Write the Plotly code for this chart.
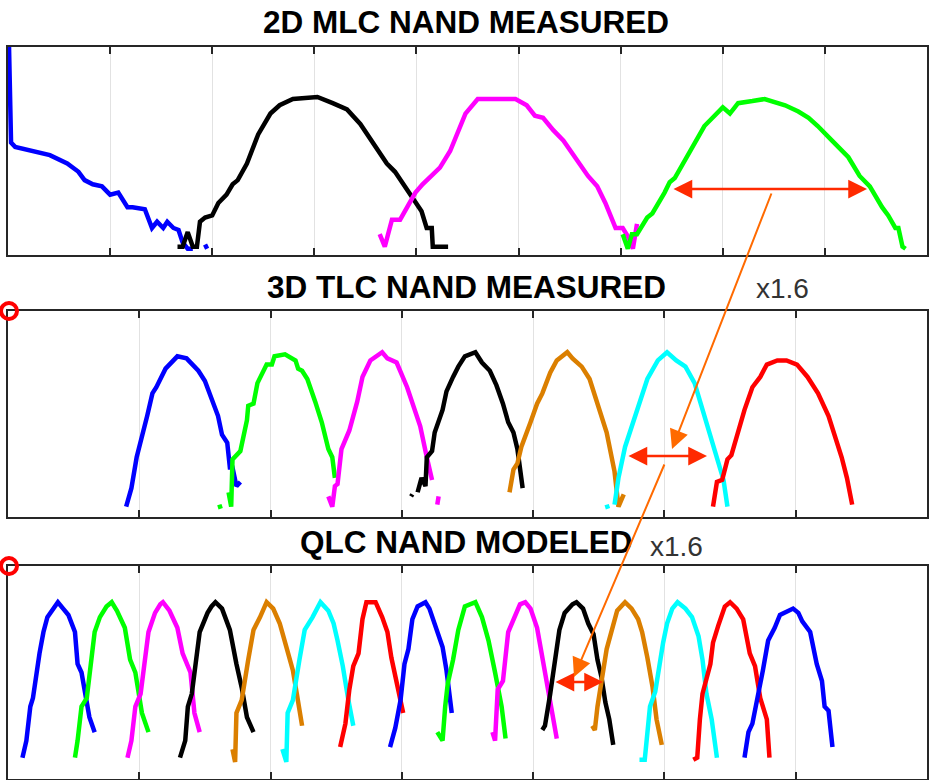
import plotly.graph_objects as go

# ---------------- colours ----------------
BLUE, GREEN, MAGENTA, BLACK = "#0000FF", "#00FF00", "#FF00FF", "#000000"
ORANGE, CYAN, RED = "#DB7F00", "#00FFFF", "#FF0000"

# ---------------- panel 1 : 2D MLC (x grid 0..9, y 0..100) ----------------
mlc_blue_x = [0.01, 0.03, 0.07, 0.24, 0.41, 0.58, 0.69, 0.75, 0.83, 0.92, 1.00, 1.08, 1.17, 1.22, 1.34, 1.41,
              1.46, 1.52, 1.56, 1.62, 1.67, 1.71, 1.76, 1.81, None, 1.93, 1.95]
mlc_blue_y = [100, 54, 52, 50, 48, 44, 40, 36, 34, 33, 29, 30, 23, 23, 22, 13,
              16, 13, 16, 13, 12, 6, 3, 3, None, 5, 3]
mlc_black_x = [1.66, 1.71, 1.76, 1.81, 1.85, 1.88, 1.93, 2.00, 2.06, 2.14, 2.20, 2.25, 2.34, 2.45, 2.57, 2.66,
               2.79, 3.03, 3.18, 3.32, 3.45, 3.55, 3.62, 3.71, 3.79, 3.87, 3.96, 4.05, 4.10, 4.15, 4.16, 4.31]
mlc_black_y = [4, 4, 11, 4, 4, 16, 18, 19, 25, 29, 34, 36, 44, 58, 68, 72,
               75, 76, 73, 70, 63, 56, 51, 44, 40, 34, 27, 21, 13, 13, 4, 4]
mlc_magenta_x = [3.64, 3.69, 3.76, 3.84, 3.99, 4.06, 4.23, 4.33, 4.48, 4.60, 4.80, 4.97, 5.08, 5.16, 5.24, 5.34,
                 5.44, 5.55, 5.68, 5.77, 5.85, 5.95, 6.02, 6.07, 6.12, 6.16]
mlc_magenta_y = [10, 4, 17, 17, 30, 34, 42, 50, 68, 75, 75, 75, 72, 67, 66, 60,
                 55, 47, 38, 33, 25, 13, 13, 9, 3, 15]
mlc_green_x = [6.02, 6.07, 6.11, 6.16, 6.26, 6.31, 6.43, 6.48, 6.53, 6.63, 6.73, 6.82, 6.90, 7.00, 7.07, 7.15,
               7.29, 7.41, 7.61, 7.74, 7.84, 7.93, 8.07, 8.23, 8.34, 8.44, 8.56, 8.62, 8.69, 8.72, 8.76, 8.79]
mlc_green_y = [10, 3, 10, 10, 18, 20, 30, 35, 37, 46, 54, 62, 66, 71, 68, 73,
               74, 75, 72, 69, 66, 62, 55, 47, 38, 33, 23, 19, 13, 13, 4, 3]

# ---------------- panel 2 : 3D TLC (x grid 0..7, y 0..100) ----------------
tlc_blue_x = [0.90, 0.94, 0.98, 1.03, 1.06, 1.10, 1.13, 1.20, 1.29, 1.36, 1.40, 1.45, 1.50, 1.56, 1.60, 1.63,
              1.67, 1.69, 1.71, 1.74, 1.77]
tlc_blue_y = [5, 14, 29, 41, 49, 60, 63, 72, 78, 77, 74, 71, 66, 55, 49, 40,
              36, 24, 24, 15, 17]
tlc_green_x = [1.61, 1.62, None, 1.68, 1.70, 1.71, 1.77, 1.82, 1.83, 1.87, 1.90, 1.97, 2.01, 2.03, 2.11, 2.19,
               2.21, 2.24, 2.28, 2.34, 2.39, 2.44, 2.47, 2.49]
tlc_green_y = [6, 4, None, 12, 5, 28, 32, 47, 54, 55, 65, 74, 74, 78, 79, 76,
               72, 71, 67, 56, 46, 33, 29, 19]
tlc_magenta_x = [2.44, 2.47, 2.49, 2.51, 2.54, 2.60, 2.66, 2.70, 2.76, 2.85, 2.89, 2.96, 3.04, 3.08, 3.14, 3.19,
                 3.23, None, 3.27, 3.28]
tlc_magenta_y = [10, 5, 15, 16, 33, 42, 56, 68, 76, 80, 77, 75, 63, 55, 44, 29,
                 18, None, 6, 10]
tlc_black_x = [3.07, 3.08, None, 3.12, 3.15, 3.18, 3.19, 3.23, 3.25, 3.31, 3.34, 3.39, 3.43, 3.48, 3.56, 3.61,
               3.67, 3.72, 3.77, 3.81, 3.85, 3.88, 3.90, 3.92]
tlc_black_y = [10, 11, None, 12, 19, 15, 29, 32, 41, 52, 61, 68, 73, 78, 80, 75,
               71, 64, 55, 46, 41, 33, 23, 14]
tlc_orange_x = [3.82, 3.85, 3.88, 3.91, 3.98, 4.03, 4.07, 4.13, 4.18, 4.26, 4.30, 4.37, 4.43, 4.49, 4.56, 4.62,
                4.65, 4.69]
tlc_orange_y = [12, 23, 26, 34, 46, 55, 60, 70, 76, 80, 77, 73, 67, 55, 41, 22,
                5, 11]
tlc_cyan_x = [4.56, 4.57, None, 4.62, 4.65, 4.70, 4.78, 4.83, 4.87, 4.95, 5.02, 5.09, 5.16, 5.23, 5.29, 5.36,
              5.41, 5.45, 5.48]
tlc_cyan_y = [6, 4, None, 6, 19, 34, 49, 58, 67, 76, 80, 76, 73, 65, 52, 37,
              26, 18, 5]
tlc_red_x = [5.37, 5.40, 5.44, 5.48, 5.51, 5.56, 5.61, 5.67, 5.73, 5.78, 5.86, 5.93, 6.01, 6.09, 6.17, 6.25,
             6.30, 6.35, 6.39, 6.43]
tlc_red_y = [5, 17, 18, 28, 30, 41, 52, 63, 68, 74, 76, 76, 74, 68, 60, 49,
             39, 29, 19, 6]

# ---------------- panel 3 : QLC modeled (x grid 0..7, y 0..100) ----------------
qlc_blue1_x = [0.11, 0.14, 0.17, 0.19, 0.24, 0.27, 0.30, 0.36, 0.38, 0.42, 0.46, 0.51, 0.53, 0.56, 0.60, 0.62, 0.66]
qlc_blue1_y = [10, 18, 34, 38, 59, 69, 76, 82, 83, 80, 77, 69, 54, 50, 37, 29, 22]
qlc_green1_x = [0.51, 0.53, 0.56, 0.60, 0.66, 0.70, 0.75, 0.79, 0.83, 0.89, 0.93, 0.97, 1.02, 1.07]
qlc_green1_y = [10, 18, 34, 38, 69, 76, 81, 83, 79, 71, 56, 50, 31, 22]
qlc_magenta1_x = [0.91, 0.94, 0.97, 1.01, 1.07, 1.12, 1.16, 1.18, 1.23, 1.29, 1.33, 1.39, 1.42, 1.46]
qlc_magenta1_y = [10, 18, 34, 40, 69, 78, 82, 83, 79, 71, 59, 50, 31, 22]
qlc_black1_x = [1.31, 1.35, 1.37, 1.40, 1.46, 1.52, 1.55, 1.58, 1.63, 1.69, 1.74, 1.78, 1.82, 1.87]
qlc_black1_y = [10, 18, 34, 40, 69, 78, 81, 83, 80, 70, 54, 43, 29, 22]
qlc_orange1_x = [1.71, 1.73, 1.74, 1.78, 1.83, 1.87, 1.92, 1.97, 2.02, 2.07, 2.12, 2.17, 2.20, 2.24]
qlc_orange1_y = [14, 8, 31, 37, 56, 70, 76, 83, 80, 73, 62, 51, 40, 25]
qlc_cyan1_x = [2.09, 2.12, 2.13, 2.17, 2.22, 2.26, 2.32, 2.38, 2.44, 2.48, 2.51, 2.55, 2.59, 2.63]
qlc_cyan1_y = [14, 8, 31, 37, 56, 70, 76, 83, 79, 73, 65, 53, 38, 25]
qlc_red1_x = [2.53, 2.57, 2.60, 2.63, 2.67, 2.70, 2.73, 2.80, 2.85, 2.89, 2.92, 2.96, 2.99, 3.01]
qlc_red1_y = [15, 26, 42, 53, 59, 75, 83, 83, 76, 69, 57, 46, 37, 31]
qlc_blue2_x = [2.91, 2.95, 2.99, 3.02, 3.05, 3.08, 3.12, 3.18, 3.21, 3.25, 3.31, 3.34, 3.37, 3.38]
qlc_blue2_y = [15, 24, 37, 54, 61, 75, 81, 83, 80, 73, 62, 51, 38, 31]
qlc_green2_x = [3.27, 3.31, 3.33, 3.35, 3.39, 3.43, 3.48, 3.56, 3.61, 3.66, 3.71, 3.76, 3.79]
qlc_green2_y = [22, 18, 34, 45, 56, 70, 81, 83, 76, 65, 50, 34, 19]
qlc_magenta2_x = [3.69, 3.71, 3.73, 3.77, 3.81, 3.86, 3.90, 3.94, 3.98, 4.03, 4.07, 4.11, 4.15, 4.18]
qlc_magenta2_y = [22, 18, 42, 46, 69, 77, 82, 83, 80, 71, 57, 45, 31, 19]
qlc_black2_x = [4.07, 4.09, 4.13, 4.17, 4.20, 4.24, 4.30, 4.33, 4.38, 4.42, 4.46, 4.49, 4.52, 4.55, 4.58, 4.61]
qlc_black2_y = [23, 25, 40, 56, 70, 78, 82, 83, 80, 73, 68, 56, 48, 36, 28, 16]
qlc_orange2_x = [4.45, 4.47, 4.49, 4.53, 4.56, 4.60, 4.64, 4.70, 4.75, 4.80, 4.83, 4.87, 4.91, 4.94, 4.98]
qlc_orange2_y = [25, 23, 34, 50, 61, 70, 79, 83, 80, 75, 69, 57, 43, 28, 16]
qlc_cyan2_x = [4.81, 4.85, 4.89, 4.93, 4.99, 5.02, 5.06, 5.10, 5.16, 5.21, 5.26, 5.29, 5.32, 5.36, 5.40]
qlc_cyan2_y = [9, 9, 34, 41, 64, 73, 80, 83, 80, 76, 67, 56, 40, 28, 10]
qlc_red2_x = [5.22, 5.25, 5.27, 5.29, 5.35, 5.37, 5.41, 5.46, 5.50, 5.55, 5.60, 5.65, 5.69, 5.73, 5.78, 5.80]
qlc_red2_y = [9, 10, 28, 40, 54, 64, 72, 81, 83, 80, 75, 59, 53, 38, 28, 10]
qlc_blue3_x = [5.61, 5.64, 5.67, 5.71, 5.75, 5.79, 5.84, 5.88, 5.92, 5.98, 6.02, 6.05, 6.11, 6.16, 6.20, 6.22,
               6.25, 6.28]
qlc_blue3_y = [10, 22, 26, 38, 51, 65, 71, 77, 78, 80, 78, 74, 69, 54, 46, 34, 32, 15]

titles = ["2D MLC NAND MEASURED", "3D TLC NAND MEASURED", "QLC NAND MODELED"]
ratio_label = "x1.6"
mlc_ticks = [1, 2, 3, 4, 5, 6, 7, 8]
tlc_ticks = [1, 2, 3, 4, 5, 6]

# ---------------- figure ----------------
W, H = 930, 780
ML, MR, MT, MB = 8, 3, 47, 1
PW, PH = W - ML - MR, H - MT - MB


def px(xp):
    return (xp - ML) / PW


def py(yp):
    return (H - MB - yp) / PH


fig = go.Figure()


def add(xs, ys, color, ax):
    fig.add_trace(go.Scatter(x=xs, y=ys, mode="lines", line=dict(color=color, width=4.5),
                             xaxis="x" + ax, yaxis="y" + ax, showlegend=False,
                             hoverinfo="skip", connectgaps=False))


add(mlc_blue_x, mlc_blue_y, BLUE, "")
add(mlc_black_x, mlc_black_y, BLACK, "")
add(mlc_magenta_x, mlc_magenta_y, MAGENTA, "")
add(mlc_green_x, mlc_green_y, GREEN, "")

add(tlc_blue_x, tlc_blue_y, BLUE, "2")
add(tlc_green_x, tlc_green_y, GREEN, "2")
add(tlc_magenta_x, tlc_magenta_y, MAGENTA, "2")
add(tlc_black_x, tlc_black_y, BLACK, "2")
add(tlc_orange_x, tlc_orange_y, ORANGE, "2")
add(tlc_cyan_x, tlc_cyan_y, CYAN, "2")
add(tlc_red_x, tlc_red_y, RED, "2")

for xs, ys, c in [(qlc_blue1_x, qlc_blue1_y, BLUE), (qlc_green1_x, qlc_green1_y, GREEN),
                  (qlc_magenta1_x, qlc_magenta1_y, MAGENTA), (qlc_black1_x, qlc_black1_y, BLACK),
                  (qlc_orange1_x, qlc_orange1_y, ORANGE), (qlc_cyan1_x, qlc_cyan1_y, CYAN),
                  (qlc_red1_x, qlc_red1_y, RED), (qlc_blue2_x, qlc_blue2_y, BLUE),
                  (qlc_green2_x, qlc_green2_y, GREEN), (qlc_magenta2_x, qlc_magenta2_y, MAGENTA),
                  (qlc_black2_x, qlc_black2_y, BLACK), (qlc_orange2_x, qlc_orange2_y, ORANGE),
                  (qlc_cyan2_x, qlc_cyan2_y, CYAN), (qlc_red2_x, qlc_red2_y, RED),
                  (qlc_blue3_x, qlc_blue3_y, BLUE)]:
    add(xs, ys, c, "3")

AXC = "#262626"
xbase = dict(showline=True, linecolor=AXC, linewidth=2, mirror="ticks", ticks="inside",
             ticklen=7, tickwidth=2, tickcolor=AXC, showticklabels=False,
             showgrid=True, gridcolor="#E2E2E2", gridwidth=1.3, zeroline=False, fixedrange=True)
ybase = dict(showline=True, linecolor=AXC, linewidth=2, mirror=True, ticks="",
             showticklabels=False, showgrid=False, zeroline=False, range=[0, 100], fixedrange=True)

d1 = [py(255), 1.0]
d2 = [py(517), py(311)]
d3 = [0.0, py(566)]

fig.update_layout(
    width=W, height=H,
    margin=dict(l=ML, r=MR, t=MT, b=MB),
    paper_bgcolor="white", plot_bgcolor="white",
    xaxis=dict(xbase, domain=[0, 1], range=[0, 9], tickvals=mlc_ticks, anchor="y"),
    yaxis=dict(ybase, domain=d1, anchor="x"),
    xaxis2=dict(xbase, domain=[0, 1], range=[0, 7], tickvals=tlc_ticks, anchor="y2"),
    yaxis2=dict(ybase, domain=d2, anchor="x2"),
    xaxis3=dict(xbase, domain=[0, 1], range=[0, 7], tickvals=tlc_ticks, anchor="y3"),
    yaxis3=dict(ybase, domain=d3, anchor="x3"),
    font=dict(family="Liberation Sans, Arial, sans-serif"),
)

# titles
for t, yy in zip(titles, [22, 287, 542]):
    fig.add_annotation(text="<b>%s</b>" % t, x=px(466), y=py(yy), xref="paper", yref="paper",
                       showarrow=False, xanchor="center", yanchor="middle",
                       font=dict(size=31.5, color="#000000", family="Liberation Sans, Arial, sans-serif"))

# x1.6 labels
for xx, yy in [(782, 288), (676, 546)]:
    fig.add_annotation(text=ratio_label, x=px(xx), y=py(yy), xref="paper", yref="paper",
                       showarrow=False, xanchor="center", yanchor="middle",
                       font=dict(size=28, color="#333333", family="Liberation Sans, Arial, sans-serif"))

# red double arrows (head x, tail x, y)
ARC = "#FF2A00"
for hx, tx, yy in [(867, 672, 189), (707, 627, 456), (603, 554, 682)]:
    fig.add_annotation(x=px(hx), y=py(yy), xref="paper", yref="paper", ax=tx - hx, ay=0,
                       axref="pixel", ayref="pixel", text="", showarrow=True,
                       arrowhead=2, arrowsize=1.5, arrowwidth=2.5, arrowcolor=ARC,
                       arrowside="end+start", startarrowhead=2, startarrowsize=1.5)

# orange connector arrows (head, tail)
ORC = "#FF6A00"
for (hx, hy), (tx, ty) in [((672, 449), (772, 192)), ((574, 677), (665, 463))]:
    fig.add_annotation(x=px(hx), y=py(hy), xref="paper", yref="paper", ax=tx - hx, ay=ty - hy,
                       axref="pixel", ayref="pixel", text="", showarrow=True,
                       arrowhead=2, arrowsize=1.9, arrowwidth=2, arrowcolor=ORC)

# red corner circles
for cy in [311, 566]:
    fig.add_shape(type="circle", xref="paper", yref="paper", xsizemode="pixel", ysizemode="pixel",
                  xanchor=px(9), yanchor=py(cy), x0=-8, x1=8, y0=-8, y1=8,
                  line=dict(color="#FF0000", width=4), fillcolor="rgba(0,0,0,0)", layer="above")

fig.write_html("out.html", config={"displayModeBar": False},
               post_script="document.body.style.margin='0';")
